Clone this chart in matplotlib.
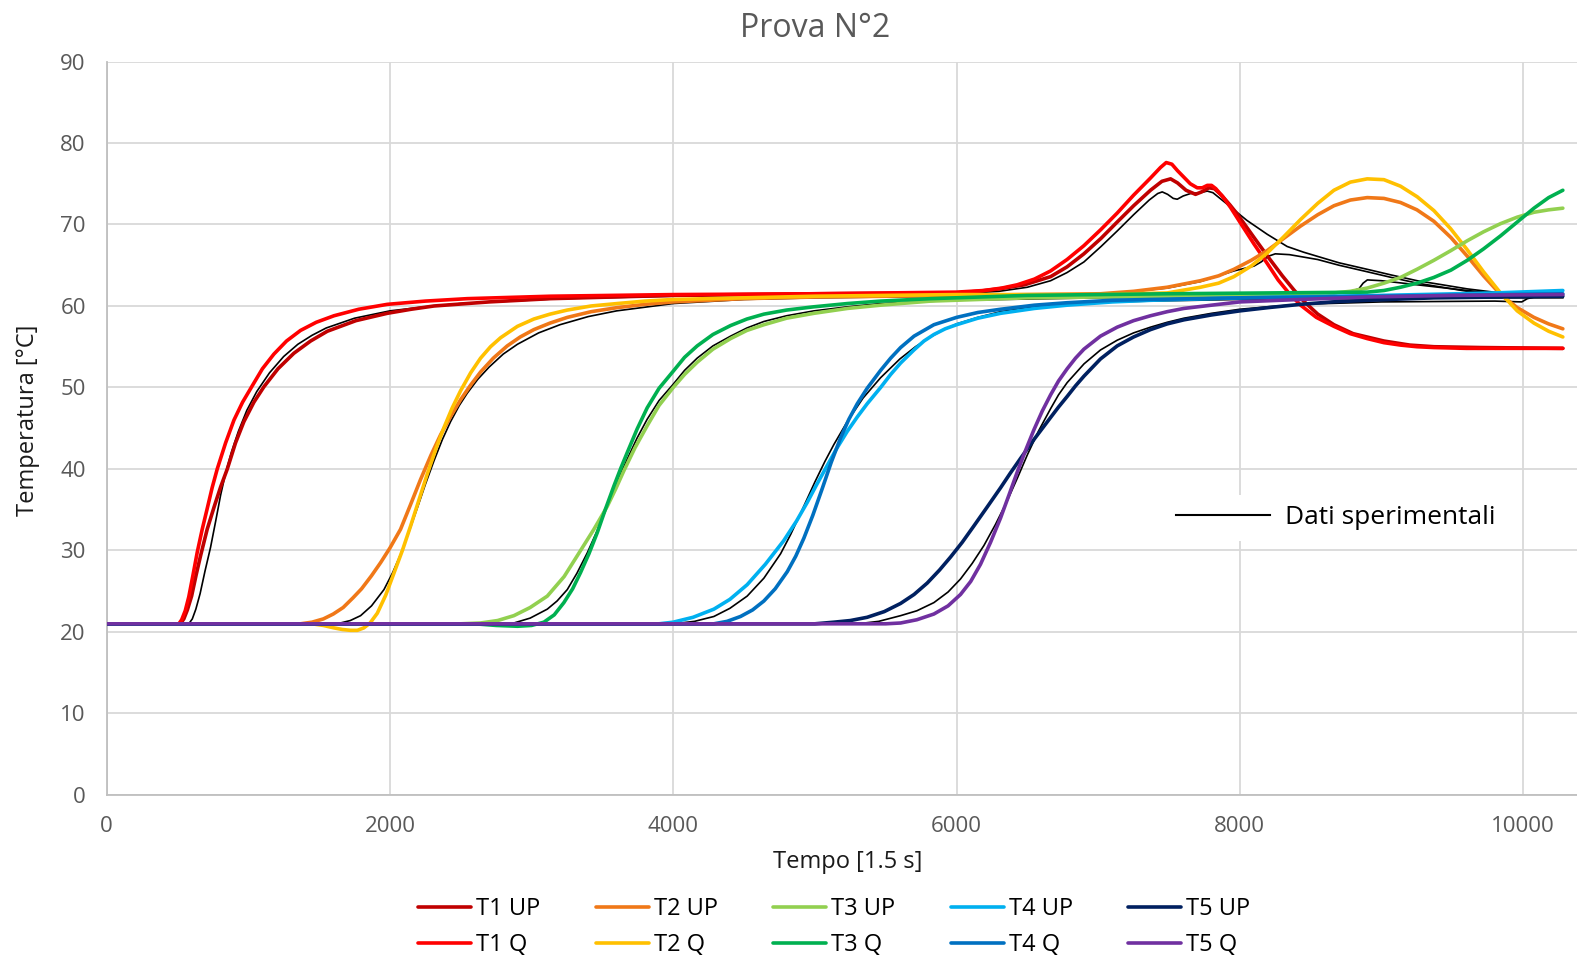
import matplotlib
matplotlib.use("Agg")
import matplotlib.pyplot as plt
from matplotlib.lines import Line2D

plt.rcParams["font.family"] = ["Open Sans", "DejaVu Sans"]

# --- simulated curves: time [1.5 s steps] and temperature [°C] ---
t1_up_x = [0, 520, 545, 570, 600, 632, 664, 710, 760, 805, 852, 910, 969, 1040, 1111, 1210, 1322, 1440,
           1558, 1760, 1981, 2150, 2311, 2700, 3134, 4000, 5000, 6000, 6150, 6300, 6480, 6664, 6780,
           6899, 7020, 7134, 7250, 7369, 7450, 7511, 7560, 7620, 7687, 7730, 7781, 7820, 7870, 7930,
           7981, 8100, 8200, 8300, 8380, 8450, 8550, 8664, 8800, 9017, 9200, 9371, 9700, 10280]
t1_up_y = [21, 21, 21.6, 22.7, 24.4, 27, 29.4, 32.6, 35.4, 37.8, 40, 43.2, 45.8, 48.2, 50.1, 52.3, 54.2,
           55.7, 56.9, 58.2, 59.1, 59.6, 60, 60.5, 60.9, 61.3, 61.5, 61.6, 61.8, 62.1, 62.6, 63.6, 64.8,
           66.4, 68.3, 70.3, 72.3, 74.2, 75.3, 75.6, 75.1, 74.2, 73.7, 74.0, 74.5, 74.4, 73.6, 72.4,
           71.3, 68.4, 66, 63.7, 62, 60.6, 59, 57.7, 56.6, 55.7, 55.2, 55.0, 54.9, 54.8]

t1_q_x = [0, 510, 530, 555, 580, 610, 640, 675, 711, 745, 781, 840, 899, 960, 1028, 1100, 1181, 1270,
          1369, 1480, 1605, 1780, 1981, 2250, 2546, 3134, 4000, 5000, 6000, 6193, 6320, 6428, 6550,
          6664, 6780, 6899, 7020, 7134, 7250, 7369, 7440, 7480, 7520, 7560, 7605, 7650, 7699, 7735,
          7770, 7800, 7830, 7880, 7934, 8000, 8100, 8194, 8270, 8345, 8429, 8540, 8664, 8780, 8899,
          9017, 9135, 9250, 9370, 9600, 10280]
t1_q_y = [21, 21, 21.5, 22.6, 24.3, 27, 29.8, 32.6, 35.2, 37.7, 40, 43.2, 46, 48.2, 50.2, 52.3, 54.1,
          55.7, 57, 58, 58.8, 59.6, 60.2, 60.6, 60.9, 61.2, 61.4, 61.5, 61.7, 61.9, 62.2, 62.6, 63.3,
          64.3, 65.7, 67.4, 69.4, 71.4, 73.6, 75.7, 77, 77.6, 77.4, 76.6, 75.8, 75, 74.5, 74.5,
          74.8, 74.8, 74.4, 73.4, 72.1, 70.3, 67.6, 65.2, 63.2, 61.6, 60.1, 58.6, 57.5, 56.6, 56,
          55.5, 55.2, 55, 54.9, 54.8, 54.8]

t2_up_x = [0, 1369, 1450, 1530, 1600, 1670, 1740, 1800, 1870, 1934, 2000, 2075, 2145, 2216, 2290, 2358,
           2430, 2499, 2570, 2640, 2730, 2828, 2920, 3016, 3130, 3252, 3420, 3605, 3800, 4000, 4500,
           5000, 6000, 7016, 7250, 7487, 7722, 7850, 7958, 8080, 8193, 8310, 8428, 8550, 8664, 8780,
           8899, 9017, 9134, 9250, 9369, 9490, 9606, 9720, 9841, 9958, 10076, 10180, 10280]
t2_up_y = [21, 21, 21.2, 21.6, 22.2, 23, 24.2, 25.3, 26.9, 28.5, 30.3, 32.6, 35.6, 38.7, 41.7, 44.2,
           46.5, 48.5, 50.3, 51.9, 53.6, 55.1, 56.2, 57.1, 57.9, 58.6, 59.3, 59.8, 60.2, 60.5, 60.9,
           61.1, 61.3, 61.5, 61.8, 62.3, 63.1, 63.7, 64.5, 65.6, 66.8, 68.3, 69.8, 71.2, 72.3, 73,
           73.3, 73.2, 72.7, 71.8, 70.4, 68.4, 66.1, 63.7, 61.4, 59.8, 58.6, 57.8, 57.2]

t2_q_x = [0, 1450, 1530, 1605, 1665, 1722, 1770, 1816, 1860, 1911, 1970, 2028, 2090, 2146, 2205, 2264,
          2325, 2382, 2440, 2499, 2570, 2640, 2710, 2781, 2900, 3016, 3130, 3252, 3420, 3605, 3800,
          4000, 5000, 6000, 7016, 7487, 7722, 7850, 7958, 8080, 8193, 8310, 8428, 8550, 8664, 8780,
          8899, 9017, 9134, 9252, 9370, 9487, 9605, 9720, 9840, 9958, 10076, 10180, 10280]
t2_q_y = [21, 21, 20.8, 20.5, 20.3, 20.2, 20.2, 20.5, 21.1, 22.3, 24.5, 27.2, 30.1, 33, 36.2, 39.4,
          42.5, 45.1, 47.5, 49.6, 51.8, 53.6, 55, 56.1, 57.5, 58.4, 59, 59.5, 60, 60.3, 60.6,
          60.8, 61.2, 61.4, 61.4, 61.6, 62.3, 62.8, 63.6, 64.9, 66.5, 68.5, 70.6, 72.6, 74.2, 75.2,
          75.6, 75.5, 74.7, 73.4, 71.7, 69.5, 66.9, 64.2, 61.6, 59.4, 57.9, 56.9, 56.2]

t3_up_x = [0, 2500, 2640, 2760, 2875, 2990, 3111, 3230, 3346, 3440, 3534, 3595, 3652, 3730, 3816, 3900,
           4000, 4080, 4169, 4280, 4405, 4520, 4640, 4800, 4993, 5230, 5464, 5817, 6500, 7500, 8300,
           8664, 8780, 8899, 9017, 9134, 9250, 9369, 9490, 9605, 9720, 9840, 9958, 10076, 10180, 10280]
t3_up_y = [21, 21, 21.1, 21.4, 22, 23, 24.4, 26.8, 30, 32.6, 35.4, 37.6, 39.8, 42.6, 45.3, 47.8,
           50, 51.6, 53.1, 54.7, 56, 57, 57.7, 58.5, 59.1, 59.7, 60.1, 60.6, 61.0, 61.2, 61.4,
           61.6, 61.8, 62.2, 62.8, 63.5, 64.5, 65.6, 66.8, 68, 69.1, 70.1, 70.9, 71.5, 71.8, 72]

t3_q_x = [0, 2600, 2750, 2900, 3000, 3087, 3160, 3228, 3290, 3346, 3405, 3464, 3520, 3581, 3630, 3675,
          3745, 3816, 3900, 4000, 4080, 4169, 4280, 4405, 4520, 4640, 4800, 4993, 5230, 5464, 5817,
          6500, 7500, 8899, 9017, 9134, 9250, 9369, 9490, 9605, 9720, 9840, 9958, 10076, 10180, 10280]
t3_q_y = [21, 21, 20.8, 20.7, 20.8, 21.2, 22.1, 23.6, 25.3, 27.3, 29.6, 32.2, 35, 37.9, 40.1, 42,
          44.9, 47.5, 49.9, 52, 53.7, 55.1, 56.5, 57.6, 58.4, 59, 59.5, 59.9, 60.3, 60.6, 60.9,
          61.3, 61.5, 61.7, 61.9, 62.3, 62.8, 63.5, 64.4, 65.6, 67, 68.6, 70.3, 72, 73.3, 74.2]

t4_up_x = [0, 3900, 4000, 4140, 4287, 4400, 4522, 4650, 4780, 4870, 4946, 5010, 5080, 5150, 5228, 5300,
           5369, 5464, 5535, 5605, 5699, 5770, 5840, 5920, 6000, 6150, 6311, 6550, 6781, 7100, 7369,
           8000, 9000, 9800, 10280]
t4_up_y = [21, 21, 21.2, 21.8, 22.8, 24, 25.8, 28.3, 31.2, 33.6, 35.9, 38, 40.2, 42.4, 44.6, 46.4,
           48, 50, 51.6, 53, 54.6, 55.7, 56.5, 57.2, 57.7, 58.5, 59.1, 59.7, 60.1, 60.5, 60.7,
           61.0, 61.3, 61.6, 61.9]

t4_q_x = [0, 4287, 4380, 4475, 4560, 4640, 4720, 4805, 4865, 4922, 4985, 5052, 5115, 5181, 5240, 5299,
          5369, 5464, 5535, 5605, 5700, 5840, 6000, 6150, 6311, 6550, 6781, 7100, 7369, 8000, 9000,
          10280]
t4_q_y = [21, 21, 21.3, 21.9, 22.7, 23.8, 25.3, 27.4, 29.3, 31.5, 34.3, 37.6, 40.8, 43.8, 46.1, 48,
          49.9, 52.1, 53.6, 54.9, 56.3, 57.7, 58.6, 59.2, 59.6, 60.1, 60.4, 60.7, 60.8, 61.0, 61.2,
          61.5]

t5_up_x = [0, 5000, 5134, 5250, 5369, 5490, 5605, 5700, 5793, 5880, 5958, 6040, 6122, 6215, 6311, 6380,
           6452, 6550, 6650, 6720, 6781, 6840, 6900, 7016, 7134, 7250, 7369, 7487, 7605, 7800, 8000,
           8200, 8428, 8650, 8900, 9369, 10280]
t5_up_y = [21, 21, 21.2, 21.4, 21.8, 22.5, 23.5, 24.6, 26, 27.6, 29.2, 31, 33, 35.3, 37.7, 39.5,
           41.3, 43.7, 46, 47.6, 48.9, 50.2, 51.4, 53.5, 55.1, 56.2, 57.1, 57.8, 58.3, 58.9, 59.4,
           59.8, 60.2, 60.5, 60.7, 61.0, 61.2]

t5_q_x = [0, 5500, 5605, 5720, 5840, 5940, 6028, 6100, 6169, 6240, 6311, 6370, 6428, 6490, 6546, 6605,
          6664, 6720, 6781, 6840, 6899, 7016, 7134, 7250, 7369, 7487, 7605, 7800, 8000, 8428, 8899,
          9500, 10280]
t5_q_y = [21, 21, 21.1, 21.5, 22.2, 23.2, 24.6, 26.2, 28.3, 31, 34, 36.8, 39.6, 42.4, 44.8, 47.1,
          49.1, 50.8, 52.3, 53.6, 54.7, 56.3, 57.4, 58.2, 58.8, 59.3, 59.7, 60.1, 60.5, 60.8, 61.1,
          61.3, 61.4]

# --- measured data (thermocouples) ---
exp1_x = [0, 580, 605, 630, 660, 695, 734, 770, 805, 840, 880, 930, 990, 1060, 1150, 1250, 1350, 1450,
          1550, 1750, 2000, 2250, 2500, 3200, 4000, 5000, 6000, 6300, 6500, 6664, 6780, 6899, 7020,
          7134, 7250, 7360, 7420, 7452, 7490, 7530, 7558, 7600, 7652, 7720, 7770, 7810, 7860, 7910,
          7958, 8050, 8193, 8334, 8450, 8546, 8700, 8899, 9070, 9252, 9430, 9605, 9840, 10028, 10280]
exp1_y = [21, 21, 21.6, 22.8, 24.7, 27.5, 30.4, 33.6, 36.8, 39.5, 42, 44.6, 47.2, 49.5, 51.8, 53.8,
          55.3, 56.4, 57.3, 58.5, 59.4, 59.9, 60.3, 60.9, 61.2, 61.4, 61.5, 61.8, 62.3, 63.1, 64.1,
          65.4, 67.3, 69.2, 71.2, 73, 73.8, 74, 73.7, 73.2, 73.1, 73.5, 73.8, 73.9, 74.1, 73.9, 73.2,
          72.5, 71.8, 70.5, 68.8, 67.3, 66.6, 66.1, 65.3, 64.5, 63.8, 63.1, 62.6, 62.1, 61.6, 61.4,
          61.3]

exp2_x = [0, 1550, 1650, 1720, 1793, 1870, 1958, 2020, 2075, 2135, 2193, 2250, 2311, 2370, 2428, 2490,
          2546, 2620, 2700, 2800, 2900, 3050, 3200, 3400, 3600, 4000, 4500, 5000, 6000, 7016, 7487,
          7722, 7958, 8100, 8150, 8200, 8250, 8350, 8450, 8550, 8700, 8899, 9070, 9252, 9430, 9605,
          9840, 10028, 10280]
exp2_y = [21, 21, 21.1, 21.4, 22, 23.2, 25.2, 27.3, 29.5, 32.3, 35.2, 38.1, 41, 43.6, 45.8, 47.8,
          49.3, 51, 52.5, 54.1, 55.3, 56.7, 57.7, 58.7, 59.4, 60.3, 60.8, 61.0, 61.2, 61.4, 62.2,
          63.0, 64.3, 64.9, 65.4, 66.1, 66.4, 66.3, 66.0, 65.7, 65.0, 64.2, 63.5, 62.8, 62.3, 61.8,
          61.4, 61.2, 61.1]

exp3_x = [0, 2800, 2875, 2990, 3111, 3180, 3252, 3320, 3393, 3460, 3534, 3600, 3675, 3745, 3816, 3900,
          4000, 4080, 4169, 4280, 4405, 4520, 4640, 4800, 4993, 5230, 5464, 6000, 7000, 8000, 8664,
          8780, 8840, 8870, 8900, 9000, 9252, 9605, 10028, 10280]
exp3_y = [21, 21, 21.1, 21.7, 22.8, 23.8, 25.2, 27.2, 29.7, 32.3, 35.4, 38.3, 41.2, 43.8, 46.1, 48.4,
          50.4, 52.1, 53.6, 55.1, 56.3, 57.3, 58.1, 58.8, 59.4, 59.9, 60.3, 60.7, 61.0, 61.2, 61.5,
          61.8, 62.1, 62.8, 63.2, 63.1, 62.6, 61.9, 61.2, 61.1]

exp4_x = [0, 4000, 4150, 4287, 4400, 4522, 4640, 4758, 4830, 4900, 4950, 5000, 5070, 5134, 5228, 5340,
          5464, 5600, 5710, 5817, 5900, 6000, 6150, 6311, 6550, 6781, 7100, 7369, 8000, 9000, 9480,
          9520, 9560, 10000, 10280]
exp4_y = [21, 21, 21.3, 21.9, 22.9, 24.4, 26.6, 29.6, 32, 34.6, 36.5, 38.4, 40.9, 43, 45.8, 48.7,
          51.2, 53.5, 55, 56.2, 57, 57.8, 58.6, 59.3, 59.9, 60.2, 60.5, 60.6, 60.8, 60.9, 61.0,
          61.4, 61.0, 61.0, 61.0]

exp5_x = [0, 5300, 5450, 5605, 5720, 5840, 5940, 6028, 6110, 6193, 6275, 6358, 6430, 6499, 6580, 6664,
          6720, 6781, 6900, 7016, 7134, 7250, 7369, 7487, 7605, 7800, 8000, 8200, 8428, 9000, 9800,
          9990, 10030, 10080, 10280]
exp5_y = [21, 21, 21.3, 22, 22.6, 23.6, 24.9, 26.5, 28.4, 30.6, 33.2, 36.1, 38.9, 41.7, 44.7, 47.4,
          49.1, 50.6, 52.9, 54.6, 55.8, 56.7, 57.4, 58, 58.5, 59.1, 59.6, 59.9, 60.2, 60.5, 60.6,
          60.5, 60.9, 61.1, 61.2]

series = [
    ("T1 UP", t1_up_x, t1_up_y, "#C00000"),
    ("T1 Q", t1_q_x, t1_q_y, "#FF0000"),
    ("T2 UP", t2_up_x, t2_up_y, "#F07818"),
    ("T2 Q", t2_q_x, t2_q_y, "#FFC000"),
    ("T3 UP", t3_up_x, t3_up_y, "#92D050"),
    ("T3 Q", t3_q_x, t3_q_y, "#00B050"),
    ("T4 UP", t4_up_x, t4_up_y, "#00B0F0"),
    ("T4 Q", t4_q_x, t4_q_y, "#0070C0"),
    ("T5 UP", t5_up_x, t5_up_y, "#002060"),
    ("T5 Q", t5_q_x, t5_q_y, "#7030A0"),
]
measured = [(exp1_x, exp1_y), (exp2_x, exp2_y), (exp3_x, exp3_y), (exp4_x, exp4_y), (exp5_x, exp5_y)]

fig = plt.figure(figsize=(15.77, 9.58), dpi=100)
ax = fig.add_axes([0.0676, 0.1702, 0.9324, 0.7656])

for mx, my in measured:
    ax.plot(mx, my, color="black", lw=1.2, zorder=2)

handles = []
for name, sx, sy, col in series:
    ln, = ax.plot(sx, sy, color=col, lw=2.6, solid_capstyle="round", solid_joinstyle="round",
                  label=name, zorder=3)
    handles.append(ln)

ax.set_xlim(0, 10380)
ax.set_ylim(0, 90)
ax.set_xticks(range(0, 10001, 2000))
ax.set_yticks(range(0, 91, 10))
ax.grid(True, color="#D9D9D9", lw=1.3)
ax.set_axisbelow(True)
for s in ("top", "right"):
    ax.spines[s].set_visible(False)
for s in ("left", "bottom"):
    ax.spines[s].set_color("#BFBFBF")
    ax.spines[s].set_linewidth(1.3)
ax.tick_params(length=0, labelsize=16, colors="#595959", pad=15)

fig.text(0.5166, 0.9706, "Prova N°2", ha="center", va="center", fontsize=23, color="#595959")
fig.text(0.5377, 0.1002, "Tempo [1.5 s]", ha="center", va="center", fontsize=17, color="#1a1a1a")
fig.text(0.0179, 0.5614, "Temperatura [°C]", ha="center", va="center", rotation=90,
         fontsize=17, color="#1a1a1a")

# bottom legend: UP on the first row, Q on the second
fig.legend(handles=handles, loc="center", bbox_to_anchor=(0.529, 0.032), ncol=5, frameon=False,
           handlelength=2.25, handletextpad=0.2, columnspacing=2.35, labelspacing=0.52,
           prop={"family": ["Open Sans", "DejaVu Sans"], "size": 17})

exp_handle = Line2D([], [], color="black", lw=1.5)
leg2 = ax.legend(handles=[exp_handle], labels=["Dati sperimentali"], loc="center",
                 bbox_to_anchor=(0.836, 0.378), fontsize=19, handlelength=3.55, handletextpad=0.6,
                 frameon=True, facecolor="white", edgecolor="none", framealpha=1, fancybox=False)
leg2.set_zorder(5)

fig.savefig("out.png", dpi=100)
